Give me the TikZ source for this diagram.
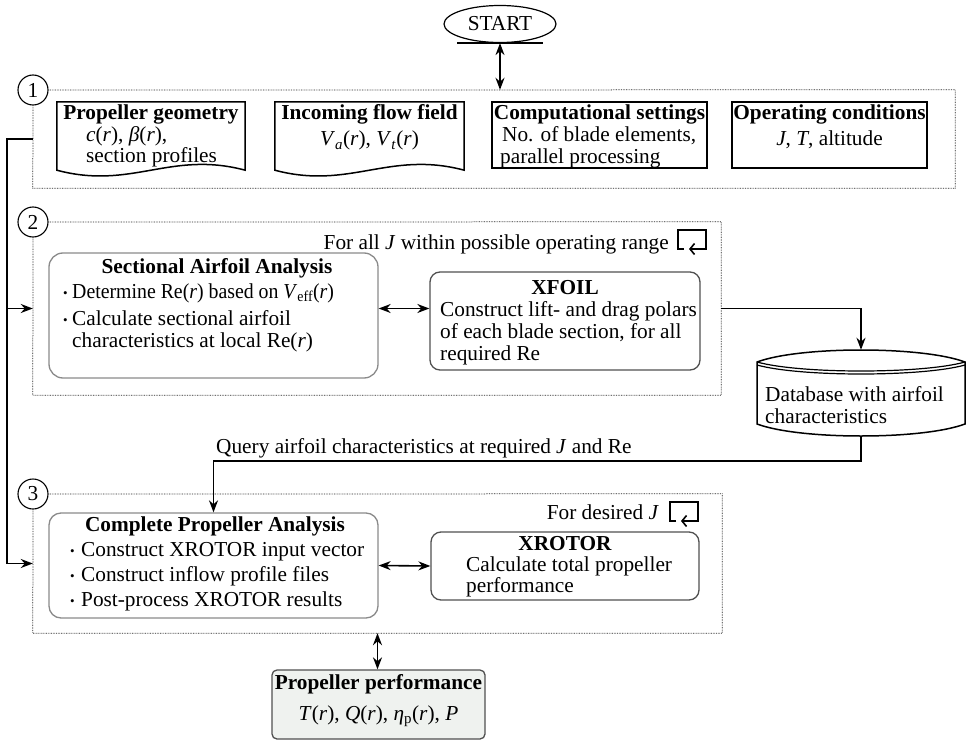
\documentclass[tikz,border=0pt]{standalone}
\usepackage{fontspec}
\setmainfont{Liberation Serif}
\usetikzlibrary{arrows.meta,calc,fit,shapes.geometric}
\definecolor{boxgray}{HTML}{8A8A8A}
\definecolor{boxdark}{HTML}{505050}
\definecolor{ppfill}{HTML}{EFF2EF}
\newcommand{\mybullet}{\makebox[9pt][l]{\fontsize{13}{13}\selectfont\raisebox{1pt}{•}}}
\newcommand{\mybulletw}{\makebox[11pt][l]{\fontsize{13}{13}\selectfont\raisebox{1pt}{•}}}
\tikzset{loopicon/.pic={\draw[line width=1.6pt, -{Straight Barb[length=4.5pt,width=11pt]}] (6,19) -- (0,19) -- (0,0) -- (28,0) -- (28,19) -- (11,19);}}
\begin{document}
\begin{tikzpicture}[x=1pt,y=-1pt,
  every node/.style={font=\fontsize{21.3}{23}\selectfont, inner sep=0pt},
  hd/.style={font=\fontsize{21.3}{23}\selectfont\bfseries},
  dotbox/.style={draw=black!85, line width=0.75pt, dash pattern=on 0.75pt off 0.9pt},
  numc/.style={circle, draw, line width=1.1pt, minimum size=30pt},
  inbox/.style={draw, line width=1.5pt},
  rbox/.style={draw=boxgray, line width=1.3pt, rounded corners=14pt},
  dbox/.style={draw=boxdark, line width=1.3pt, rounded corners=10pt},
  conn/.style={line width=1.6pt, -{Stealth[length=12pt,width=9pt]}},
  dconn/.style={line width=1.6pt, {Stealth[length=12pt,width=9pt]}-{Stealth[length=12pt,width=9pt]}},
  region/.style={inner sep=0pt, draw=none}
]
\useasboundingbox (0,0) rectangle (966,741);

% START
\node[ellipse, draw, line width=1.2pt, minimum width=112pt, minimum height=37pt] (start) at (500,24) {START};
\draw[line width=2.4pt] ($(start.south)+(-43,0)$) -- ($(start.south)+(43,0)$);

% numbered circles and dotted frames
\node[numc] (c1) at (33,90) {1};
\node[numc] (c2) at (33,222) {2};
\node[numc] (c3) at (33,494) {3};
\node[region, fit={(33,90) (955,188)}] (b1) {};
\node[region, fit={(33,222) (721,395)}] (b2) {};
\node[region, fit={(33,494) (722,633)}] (b3) {};
\draw[dotbox] (c1.east) -- (b1.north east) -- (b1.south east) -- (b1.south west) -- (c1.south);
\draw[dotbox] (c2.east) -- (b2.north east) -- (b2.south east) -- (b2.south west) -- (c2.south);
\draw[dotbox] (c3.east) -- (b3.north east) -- (b3.south east) -- (b3.south west) -- (c3.south);

% ---- Stage 1 boxes
\node[region, minimum width=188pt, minimum height=68pt] (pg) at (151,136) {};
\draw[inbox] (pg.south east) -- (pg.north east) -- (pg.north west) -- (pg.south west)
  .. controls ($(pg.south west)+(75,20)$) and ($(pg.south east)+(-75,-20)$) .. (pg.south east) -- cycle;
\node[hd, anchor=base] (pgh) at (151,120) {Propeller geometry};
\node[anchor=base west] (pg1) at (86,142) {\textit{c}(\textit{r}), \textit{β}(\textit{r}),};
\node[anchor=base west] (pg2) at (86,162) {section profiles};

\node[region, minimum width=189pt, minimum height=68pt] (iff) at (369.5,136) {};
\draw[inbox] (iff.south east) -- (iff.north east) -- (iff.north west) -- (iff.south west)
  .. controls ($(iff.south west)+(75,20)$) and ($(iff.south east)+(-75,-20)$) .. (iff.south east) -- cycle;
\node[hd, anchor=base] (iffh) at (369.5,120) {Incoming flow field};
\node[anchor=base] (iff1) at (369.5,146) {\textit{V}\textsubscript{\textit{a}}(\textit{r}), \textit{V}\textsubscript{\textit{t}}(\textit{r})};

\node[inbox, minimum width=215pt, minimum height=66pt] (cs) at (599.5,135) {};
\node[hd, anchor=base] (csh) at (599.5,120) {Computational settings};
\node[anchor=base west] (cs1) at (502,142) {No. of blade elements,};
\node[anchor=base west] (cs2) at (500,163) {parallel processing};

\node[inbox, minimum width=195pt, minimum height=66pt] (oc) at (829.5,135) {};
\node[hd, anchor=base] (och) at (829.5,120) {Operating conditions};
\node[anchor=base] (oc1) at (829.5,146) {\textit{J}, \textit{T}, altitude};

% ---- Stage 2
\node[anchor=base east] (forall) at (669,249) {For all \textit{J} within possible operating range};
\pic at (678,230) {loopicon};

\node[rbox, minimum width=329pt, minimum height=125pt] (sa) at (213.5,315.5) {};
\node[hd, anchor=base] (sah) at (217,273) {Sectional Airfoil Analysis};
\node[anchor=base west] (sa1) at (63,298) {\mybullet\scalebox{0.93}[1]{Determine Re(\textit{r}) based on \textit{V}\textsubscript{eff}(\textit{r})}};
\node[anchor=base west] (sa2) at (63,325) {\mybullet Calculate sectional airfoil};
\node[anchor=base west] (sa3) at (72,347) {characteristics at local Re(\textit{r})};

\node[dbox, minimum width=270pt, minimum height=98pt] (xf) at (565,321) {};
\node[hd, anchor=base] (xfh) at (565,294) {XFOIL};
\node[anchor=base west] (xf1) at (440,316) {Construct lift- and drag polars};
\node[anchor=base west] (xf2) at (440,338) {of each blade section, for all};
\node[anchor=base west] (xf3) at (440,360) {required Re};

% database
\node[region, minimum width=208pt, minimum height=86pt] (db) at (861,393) {};
\draw[line width=1.5pt, fill=white] (757,362) -- (757,424) .. controls (800,440) and (922,440) .. (965,424)
  -- (965,362) .. controls (922,346) and (800,346) .. cycle;
\draw[line width=1.2pt] (757,362) .. controls (800,374) and (922,374) .. (965,362);
\draw[line width=1.2pt] (757,365) .. controls (800,377) and (922,377) .. (965,365);
\node[anchor=base west] (db1) at (765,401) {Database with airfoil};
\node[anchor=base west] (db2) at (765,423) {characteristics};

% ---- Stage 3
\node[anchor=base west] (query) at (216,453) {Query airfoil characteristics at required \textit{J} and Re};
\node[anchor=base east] (fordes) at (659,519) {For desired \textit{J}};
\pic at (670,502) {loopicon};

\node[rbox, rounded corners=12pt, minimum width=329pt, minimum height=105pt] (cp) at (213.5,565.5) {};
\node[hd, anchor=base] (cph) at (215,531) {Complete Propeller Analysis};
\node[anchor=base west] (cp1) at (70,556) {\mybulletw Construct XROTOR input vector};
\node[anchor=base west] (cp2) at (70,581) {\mybulletw Construct inflow profile files};
\node[anchor=base west] (cp3) at (70,606) {\mybulletw Post-process XROTOR results};

\node[dbox, minimum width=268pt, minimum height=68pt] (xr) at (565,566) {};
\node[hd, anchor=base] (xrh) at (565,550) {XROTOR};
\node[anchor=base west] (xr1) at (466,571) {Calculate total propeller};
\node[anchor=base west] (xr2) at (466,592) {performance};

\node[draw=boxdark, fill=ppfill, line width=1.3pt, rounded corners=5pt, minimum width=213pt, minimum height=69pt] (pp) at (378.5,704.5) {};
\node[hd, anchor=base] (pph) at (378.5,689) {Propeller performance};
\node[anchor=base] (pp1) at (378.5,720) {\textit{T}(\textit{r}), \textit{Q}(\textit{r}), \textit{η}\textsubscript{p}(\textit{r}), \textit{P}};

% ---- connectors
\draw[dconn] (start.south) -- (start.south |- b1.north);
\coordinate (bus) at (7,139);
\draw[line width=2pt] (b1.west) -- (bus) -- (bus |- b3.west);
\draw[conn] (bus |- b2.west) -- (b2.west);
\draw[conn] (bus |- b3.west) -- (b3.west);
\draw[dconn] (sa.east |- b2.east) -- (xf.west |- b2.east);
\draw[conn] (b2.east) -| (db.north);
\coordinate (qy) at (0,461);
\draw[conn] (db.south) -- (db.south |- qy) -| (cp.north);
\draw[dconn] (cp.east) -- (xr.west);
\draw[dconn] (b3.south) -- (b3.south |- pp.north);
\end{tikzpicture}
\end{document}
